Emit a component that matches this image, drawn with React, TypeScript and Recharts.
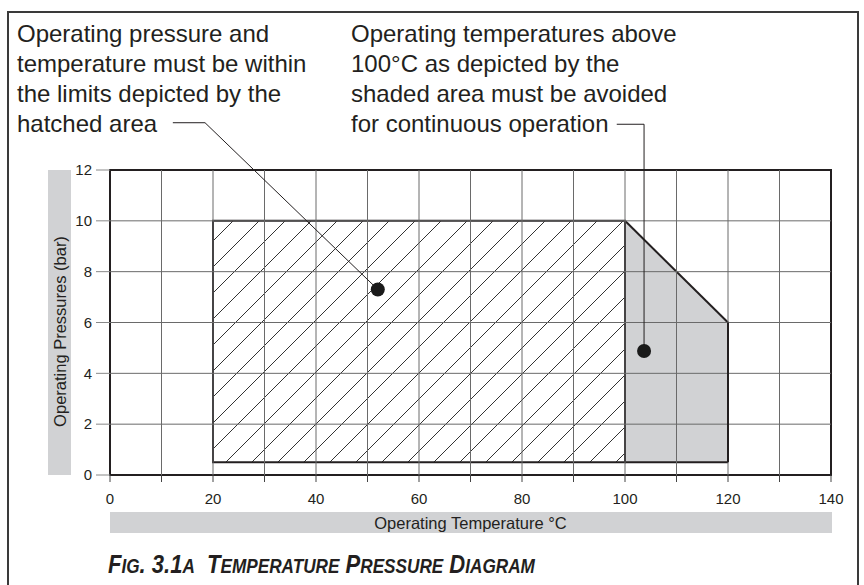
import React from 'react';
import {
  ComposedChart, XAxis, YAxis, Area, ReferenceArea, ReferenceLine, ReferenceDot,
} from 'recharts';

// ---- data ----
const xTicks = [0, 10, 20, 30, 40, 50, 60, 70, 80, 90, 100, 110, 120, 130, 140];
const yTicks = [0, 2, 4, 6, 8, 10, 12];
const gridX = [10, 20, 30, 40, 50, 60, 70, 80, 90, 100, 110, 120, 130];
const gridY = [2, 4, 6, 8, 10];

// hatched (permitted) region
const hatchTemp = [20, 100];
const hatchPressure = [0.5, 10];

// shaded (avoid) region
const shadeTemp = [100, 120];
const shadeTop = [10, 6];
const shadeBottom = [0.5, 0.5];

// annotation dots and leader lines (data coordinates)
const dotHatch = { x: 52, y: 7.3 };
const dotShade = { x: 103.7, y: 4.88 };
const leaderHatch = [{ x: 12.2, y: 13.86 }, { x: 18.45, y: 13.86 }, { x: 52, y: 7.3 }];
const leaderShade = [{ x: 98.4, y: 13.8 }, { x: 103.7, y: 13.8 }, { x: 103.7, y: 4.88 }];

const noteLeft = ['Operating pressure and', 'temperature must be within', 'the limits depicted by the', 'hatched area'];
const noteRight = ['Operating temperatures above', '100°C as depicted by the', 'shaded area must be avoided', 'for continuous operation'];
const caption = 'Fig. 3.1a  Temperature Pressure Diagram';

const shadeData = shadeTemp.map((t, i) => ({ x: t, shade: [shadeBottom[i], shadeTop[i]] }));

const FONT = '"Liberation Sans", Arial, Helvetica, sans-serif';
const INK = '#231f20';
const BAND = '#d1d2d4';
const GRID = '#6a6a6a';

const YLabel = (props: any) => {
  const vb = props.viewBox || {};
  const cx = vb.x - 2 + 11.5;
  const cy = vb.y + vb.height / 2 + 9;
  return (
    <g>
      <rect x={vb.x - 2} y={vb.y} width={23} height={vb.height} fill={BAND} />
      <text x={cx} y={cy} transform={`rotate(-90 ${cx} ${cy})`} textAnchor="middle" dominantBaseline="central"
        fontFamily={FONT} fontSize={16.5} fill={INK}>Operating Pressures (bar)</text>
    </g>
  );
};

const XLabel = (props: any) => {
  const vb = props.viewBox || {};
  return (
    <g>
      <rect x={vb.x} y={vb.y + 37} width={vb.width + 1} height={21} fill={BAND} />
      <text x={vb.x + vb.width / 2} y={vb.y + 47.5} textAnchor="middle" dominantBaseline="central"
        fontFamily={FONT} fontSize={16.5} fill={INK}>Operating Temperature °C</text>
    </g>
  );
};

const Caption = () => {
  const parts = caption.split('').map((ch, i) => {
    const small = ch >= 'a' && ch <= 'z';
    return (
      <span key={i} style={{ fontSize: small ? 19.5 : 25 }}>{small ? ch.toUpperCase() : ch}</span>
    );
  });
  return (
    <div style={{
      position: 'absolute', left: 108, top: 549, fontFamily: FONT, fontWeight: 'bold', fontStyle: 'italic',
      color: INK, whiteSpace: 'pre', lineHeight: '30px', fontSize: 25,
      transform: 'scaleX(0.88)', transformOrigin: 'left center',
    }}>{parts}</div>
  );
};

export default function App() {
  const noteStyle: React.CSSProperties = {
    position: 'absolute', fontFamily: FONT, fontSize: 24, lineHeight: '30px', color: INK, whiteSpace: 'pre',
  };
  return (
    <div style={{ position: 'absolute', left: 0, top: 0, width: 864, height: 585, overflow: 'hidden', background: '#fff' }}>
      <div style={{ position: 'absolute', left: 7, top: 11, width: 848, height: 620, border: `2px solid #3a3a3a` }} />
      <div style={{ ...noteStyle, left: 17, top: 19 }}>
        {noteLeft.map((l, i) => <div key={i}>{l}</div>)}
      </div>
      <div style={{ ...noteStyle, left: 351, top: 19 }}>
        {noteRight.map((l, i) => <div key={i}>{l}</div>)}
      </div>
      <Caption />
      <div style={{ position: 'absolute', left: 0, top: 0 }}>
        <ComposedChart width={864} height={585} data={shadeData}
          margin={{ top: 170, right: 33, bottom: 80, left: 50 }}>
          <defs>
            <pattern id="hatch" patternUnits="userSpaceOnUse" width={26} height={26}>
              <path d="M-1,13 L13,-1 M11,27 L27,11" stroke="#333" strokeWidth={1} />
            </pattern>
          </defs>
          <XAxis dataKey="x" type="number" domain={[0, 140]} ticks={xTicks} interval={0}
            tickSize={7} tickMargin={11} axisLine={false}
            tickLine={{ stroke: '#444', strokeWidth: 1 }}
            tick={{ fontFamily: FONT, fontSize: 15, fill: INK }}
            tickFormatter={(v: number) => (v % 20 === 0 ? String(v) : '')}
            height={30} label={<XLabel />} />
          <YAxis type="number" domain={[0, 12]} ticks={yTicks} interval={0}
            tickSize={14} tickMargin={4} axisLine={false}
            tickLine={{ stroke: '#888', strokeWidth: 1 }}
            tick={{ fontFamily: FONT, fontSize: 15, fill: INK }}
            width={60} label={<YLabel />} />
          <Area dataKey="shade" type="linear" fill={BAND} fillOpacity={1} stroke={INK} strokeWidth={2}
            isAnimationActive={false} dot={false} activeDot={false} />
          <ReferenceArea x1={hatchTemp[0]} x2={hatchTemp[1]} y1={hatchPressure[0]} y2={hatchPressure[1]}
            fill="url(#hatch)" fillOpacity={1} stroke="none" />
          {gridX.map((v) => (
            <ReferenceLine key={'gx' + v} x={v} stroke={GRID} strokeWidth={1} />
          ))}
          {gridY.map((v) => (
            <ReferenceLine key={'gy' + v} y={v} stroke={GRID} strokeWidth={1} />
          ))}
          <ReferenceArea x1={hatchTemp[0]} x2={hatchTemp[1]} y1={hatchPressure[0]} y2={hatchPressure[1]}
            fill="none" stroke={INK} strokeWidth={2} />
          <ReferenceLine segment={[{ x: shadeTemp[1], y: shadeBottom[1] }, { x: shadeTemp[1], y: shadeTop[1] }]}
            stroke={INK} strokeWidth={2} />
          <ReferenceArea x1={0} x2={140} y1={0} y2={12} fill="none" stroke={INK} strokeWidth={2} />
          <ReferenceLine segment={[leaderHatch[0], leaderHatch[1]]} stroke={INK} strokeWidth={1} ifOverflow="visible" />
          <ReferenceLine segment={[leaderHatch[1], leaderHatch[2]]} stroke={INK} strokeWidth={1} ifOverflow="visible" />
          <ReferenceLine segment={[leaderShade[0], leaderShade[1]]} stroke={INK} strokeWidth={1} ifOverflow="visible" />
          <ReferenceLine segment={[leaderShade[1], leaderShade[2]]} stroke={INK} strokeWidth={1} ifOverflow="visible" />
          <ReferenceDot x={dotHatch.x} y={dotHatch.y} r={7} fill="#1a1a1a" stroke="none" />
          <ReferenceDot x={dotShade.x} y={dotShade.y} r={7} fill="#1a1a1a" stroke="none" />
        </ComposedChart>
      </div>
    </div>
  );
}
